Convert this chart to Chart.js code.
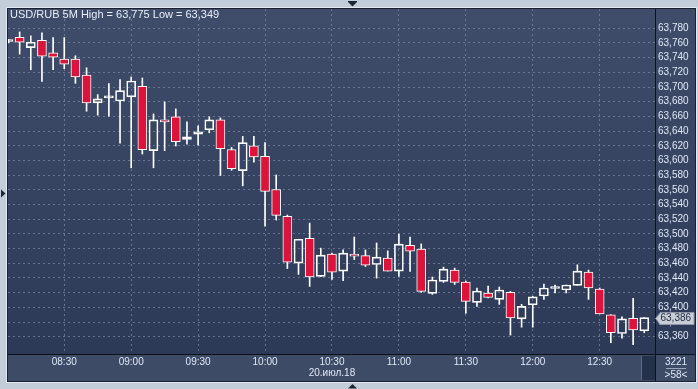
<!DOCTYPE html>
<html>
<head>
<meta charset="utf-8">
<title>USD/RUB 5M</title>
<script src="https://cdn.jsdelivr.net/npm/chart.js@4.4.1/dist/chart.umd.min.js"></script>
<style>
  html, body { margin: 0; padding: 0; background: #c3ccd9; }
  canvas { display: block; }
</style>
</head>
<body>
<canvas id="grafico" width="698" height="389"></canvas>
<script>
// =====================================================
// DATOS - USD/RUB 5M, 20.07.18
// =====================================================

const symbol = "USD/RUB 5M";

const times = [
  "08:05", "08:10", "08:15", "08:20", "08:25", "08:30", "08:35", "08:40", "08:45", "08:50",
  "08:55", "09:00", "09:05", "09:10", "09:15", "09:20", "09:25", "09:30", "09:35", "09:40",
  "09:45", "09:50", "09:55", "10:00", "10:05", "10:10", "10:15", "10:20", "10:25", "10:30",
  "10:35", "10:40", "10:45", "10:50", "10:55", "11:00", "11:05", "11:10", "11:15", "11:20",
  "11:25", "11:30", "11:35", "11:40", "11:45", "11:50", "11:55", "12:00", "12:05", "12:10",
  "12:15", "12:20", "12:25", "12:30", "12:35", "12:40", "12:45", "12:50"
];

const open = [
  63.7620, 63.7678, 63.7537, 63.7637, 63.7465, 63.7380, 63.7380, 63.7163, 63.6784, 63.6852,
  63.6810, 63.6865, 63.7009, 63.6133, 63.6553, 63.6594, 63.6287, 63.6358, 63.6418, 63.6553,
  63.6147, 63.5862, 63.6200, 63.6056, 63.5605, 63.5239, 63.4602, 63.4941, 63.4421, 63.4724,
  63.4494, 63.4724, 63.4705, 63.4583, 63.4670, 63.4494, 63.4846, 63.4792, 63.4190, 63.4353,
  63.4507, 63.4345, 63.4068, 63.4196, 63.4109, 63.4204, 63.3843, 63.4033, 63.4155, 63.4257,
  63.4236, 63.4299, 63.4480, 63.4250, 63.3898, 63.3644, 63.3851, 63.3680
];

const high = [
  63.7650, 63.7750, 63.7696, 63.7736, 63.7673, 63.7673, 63.7425, 63.7262, 63.6896, 63.7045,
  63.7100, 63.7136, 63.7123, 63.6635, 63.6797, 63.6702, 63.6526, 63.6472, 63.6594, 63.6580,
  63.6178, 63.6327, 63.6327, 63.6242, 63.5803, 63.5257, 63.4927, 63.5148, 63.4806, 63.4740,
  63.4782, 63.4958, 63.4782, 63.4877, 63.4769, 63.4999, 63.4958, 63.4864, 63.4413, 63.4548,
  63.4534, 63.4358, 63.4263, 63.4291, 63.4277, 63.4218, 63.4041, 63.4150, 63.4318, 63.4304,
  63.4304, 63.4579, 63.4507, 63.4264, 63.3900, 63.3871, 63.4122, 63.3851
];

const low = [
  63.7600, 63.7448, 63.7235, 63.7076, 63.7235, 63.7249, 63.7050, 63.6670, 63.6616, 63.6602,
  63.6236, 63.5900, 63.6087, 63.5900, 63.6133, 63.6196, 63.6223, 63.6209, 63.6377, 63.5795,
  63.5866, 63.5654, 63.5975, 63.5104, 63.5189, 63.4529, 63.4448, 63.4285, 63.4420, 63.4380,
  63.4363, 63.4651, 63.4556, 63.4398, 63.4494, 63.4420, 63.4488, 63.4204, 63.4177, 63.4339,
  63.4312, 63.3919, 63.4014, 63.4128, 63.4041, 63.3622, 63.3730, 63.3730, 63.4109, 63.4196,
  63.4196, 63.4299, 63.4109, 63.3911, 63.3518, 63.3579, 63.3491, 63.3654
];

const close = [
  63.7620, 63.7610, 63.7610, 63.7420, 63.7407, 63.7312, 63.7136, 63.6784, 63.6838, 63.6852,
  63.6950, 63.7082, 63.6147, 63.6553, 63.6526, 63.6255, 63.6323, 63.6391, 63.6553, 63.6160,
  63.5889, 63.6242, 63.6047, 63.5578, 63.5253, 63.4616, 63.4927, 63.4413, 63.4711, 63.4480,
  63.4738, 63.4697, 63.4575, 63.4683, 63.4494, 63.4860, 63.4765, 63.4217, 63.4372, 63.4521,
  63.4340, 63.4082, 63.4223, 63.4136, 63.4236, 63.3857, 63.4014, 63.4142, 63.4264, 63.4270,
  63.4304, 63.4494, 63.4264, 63.3911, 63.3654, 63.3844, 63.3694, 63.3860
];

const yTicks = [
  63.36, 63.38, 63.40, 63.42, 63.44, 63.46, 63.48, 63.50, 63.52, 63.54, 63.56,
  63.58, 63.60, 63.62, 63.64, 63.66, 63.68, 63.70, 63.72, 63.74, 63.76, 63.78
];

const xTickLabels = ["08:30", "09:00", "09:30", "10:00", "10:30", "11:00", "11:30", "12:00", "12:30"];
const dateTick = "10:30";
const dateLabel = "20.июл.18";
const counterLabel = "3221";

// =====================================================
// AYUDAS
// =====================================================

const toMin = t => {
  const [h, m] = t.split(":").map(Number);
  return (h - 8) * 60 + m;
};
const fromMin = v => {
  const h = 8 + Math.floor(v / 60);
  const m = Math.round(v % 60);
  return String(h).padStart(2, "0") + ":" + String(m).padStart(2, "0");
};
const fmt = v => v.toFixed(3).replace(".", ",");

const FONT = "'Liberation Sans', Arial, sans-serif";
const TEXT = "#dfe8f6";
const GRID = "rgba(118, 134, 164, 0.75)";
const RED = "#dc143c";

const bodies = times.map((t, i) => ({ x: toMin(t), y: [open[i], close[i]] }));
const upperWicks = times.map((t, i) => ({ x: toMin(t), y: [Math.max(open[i], close[i]), high[i]] }));
const lowerWicks = times.map((t, i) => ({ x: toMin(t), y: [low[i], Math.min(open[i], close[i])] }));
const bodyColors = times.map((t, i) => close[i] < open[i] ? RED : "rgba(0,0,0,0)");

// =====================================================
// FONDO, MARCO Y ETIQUETAS EXTRA
// =====================================================

const marco = {
  id: "marco",
  beforeDraw(chart) {
    const { ctx, chartArea: a, width, height } = chart;
    const yS = chart.scales.y, xS = chart.scales.x;
    ctx.save();
    ctx.fillStyle = "#c3ccd9";
    ctx.fillRect(0, 0, width, height);

    const g = ctx.createLinearGradient(0, a.top, 0, a.bottom);
    g.addColorStop(0, "#3f4d6a");
    g.addColorStop(1, "#2c3957");
    ctx.fillStyle = g;
    ctx.fillRect(a.left, a.top, yS.right - a.left, a.bottom - a.top);

    ctx.fillStyle = "#3e4b66";
    ctx.fillRect(a.left, a.bottom, yS.right - a.left, xS.bottom - a.bottom);
    ctx.restore();
  },
  afterDraw(chart) {
    const { ctx, chartArea: a } = chart;
    const yS = chart.scales.y, xS = chart.scales.x;
    const R = yS.right, B = xS.bottom;
    ctx.save();

    // separadores
    ctx.strokeStyle = "#0d111a";
    ctx.lineWidth = 1;
    ctx.beginPath();
    ctx.moveTo(a.right + 0.5, a.top); ctx.lineTo(a.right + 0.5, B);
    ctx.moveTo(a.left, a.bottom + 0.5); ctx.lineTo(R, a.bottom + 0.5);
    ctx.stroke();

    // recuadro oscuro abajo a la derecha
    ctx.fillStyle = "#24314b";
    ctx.fillRect(a.right - 13, a.bottom + 2, 13, B - a.bottom - 3);
    ctx.fillStyle = "#5d6a82";
    ctx.fillRect(a.right - 14, a.bottom + 2, 1, B - a.bottom - 3);

    // marco
    ctx.strokeStyle = "#1b2130";
    ctx.strokeRect(a.left - 0.5, a.top - 0.5, R - a.left + 1, B - a.top + 1);
    ctx.strokeStyle = "#e3e8f0";
    ctx.strokeRect(a.left - 1.5, a.top - 1.5, R - a.left + 3, B - a.top + 3);

    // titulo
    const maxH = Math.max(...high), minL = Math.min(...low);
    ctx.font = "11px " + FONT;
    ctx.fillStyle = "#e8eef8";
    ctx.textBaseline = "middle";
    ctx.textAlign = "left";
    ctx.fillText(symbol + " High = " + fmt(maxH) + " Low = " + fmt(minL), 10, 15);

    // contador abajo a la derecha
    const cx = (a.right + R) / 2 + 1;
    ctx.font = "10px " + FONT;
    ctx.textAlign = "center";
    ctx.fillStyle = TEXT;
    ctx.fillText(counterLabel, cx, a.bottom + 8);
    ctx.fillText(">" + times.length + "<", cx, a.bottom + 21);
    ctx.fillStyle = "#9aa8bf";
    ctx.fillRect(cx - 10, a.bottom + 14, 20, 1);

    // precio actual
    const last = close[close.length - 1];
    const py = Math.round(yS.getPixelForValue(last)) + 0.5;
    const bx = a.right + 3.5, bw = R - bx - 1, bh = 12;
    ctx.beginPath();
    ctx.moveTo(bx - 3, py);
    ctx.lineTo(bx + 2, py - bh / 2);
    ctx.lineTo(bx + bw, py - bh / 2);
    ctx.lineTo(bx + bw, py + bh / 2);
    ctx.lineTo(bx + 2, py + bh / 2);
    ctx.closePath();
    ctx.fillStyle = "#c9cdd5";
    ctx.fill();
    ctx.strokeStyle = "#8e97a8";
    ctx.stroke();
    ctx.fillStyle = "#1d2840";
    ctx.textAlign = "left";
    ctx.fillText(fmt(last), bx + 2, py);

    // flechitas del marco
    ctx.fillStyle = "#1e2535";
    const mx = 352.5;
    ctx.fillRect(mx - 4.5, 1, 9, 1);
    ctx.beginPath(); ctx.moveTo(mx - 4.5, 2); ctx.lineTo(mx + 4.5, 2); ctx.lineTo(mx, 6.5); ctx.closePath(); ctx.fill();
    ctx.beginPath(); ctx.moveTo(mx - 4.5, 388.5); ctx.lineTo(mx + 4.5, 388.5); ctx.lineTo(mx, 384); ctx.closePath(); ctx.fill();
    ctx.beginPath(); ctx.moveTo(1, 189.5); ctx.lineTo(5.5, 193.5); ctx.lineTo(1, 197.5); ctx.closePath(); ctx.fill();

    ctx.restore();
  }
};

// =====================================================
// GRAFICO
// =====================================================

const ctx = document.getElementById("grafico").getContext("2d");

new Chart(ctx, {
  type: "bar",
  data: {
    datasets: [
      {
        label: "cuerpo",
        data: bodies,
        backgroundColor: bodyColors,
        borderColor: "#ffffff",
        borderWidth: 1,
        borderSkipped: false,
        barThickness: 9,
        minBarLength: 2,
        grouped: false,
        clip: 0,
        order: 0
      },
      {
        label: "mecha alta",
        data: upperWicks,
        backgroundColor: "#ffffff",
        borderWidth: 0,
        barThickness: 1,
        grouped: false,
        clip: 0,
        order: 1
      },
      {
        label: "mecha baja",
        data: lowerWicks,
        backgroundColor: "#ffffff",
        borderWidth: 0,
        barThickness: 1,
        grouped: false,
        clip: 0,
        order: 1
      }
    ]
  },
  options: {
    responsive: false,
    animation: false,
    layout: { padding: { left: 8, top: 8, right: 3, bottom: 8 } },
    plugins: {
      legend: { display: false },
      tooltip: { enabled: false }
    },
    scales: {
      x: {
        type: "linear",
        offset: false,
        min: 4.78,
        max: 294.8,
        afterBuildTicks: s => { s.ticks = xTickLabels.map(t => ({ value: toMin(t) })); },
        afterFit: s => { s.height = 27; },
        grid: { color: GRID, drawTicks: false, offset: false },
        border: { display: false, dash: [2, 3] },
        ticks: {
          autoSkip: false,
          maxRotation: 0,
          padding: 3,
          color: TEXT,
          font: { family: FONT, size: 10, lineHeight: 1.05 },
          callback: v => {
            const lbl = fromMin(v);
            return lbl === dateTick ? [lbl, dateLabel] : lbl;
          }
        }
      },
      y: {
        position: "right",
        min: 63.3365,
        max: 63.8062,
        afterBuildTicks: s => { s.ticks = yTicks.map(v => ({ value: v })); },
        afterFit: s => { s.width = 40; },
        grid: { color: GRID, drawTicks: false },
        border: { display: false, dash: [2, 3] },
        ticks: {
          autoSkip: false,
          padding: 3,
          color: TEXT,
          font: { family: FONT, size: 10 },
          callback: v => fmt(v)
        }
      }
    }
  },
  plugins: [marco]
});
</script>
</body>
</html>
